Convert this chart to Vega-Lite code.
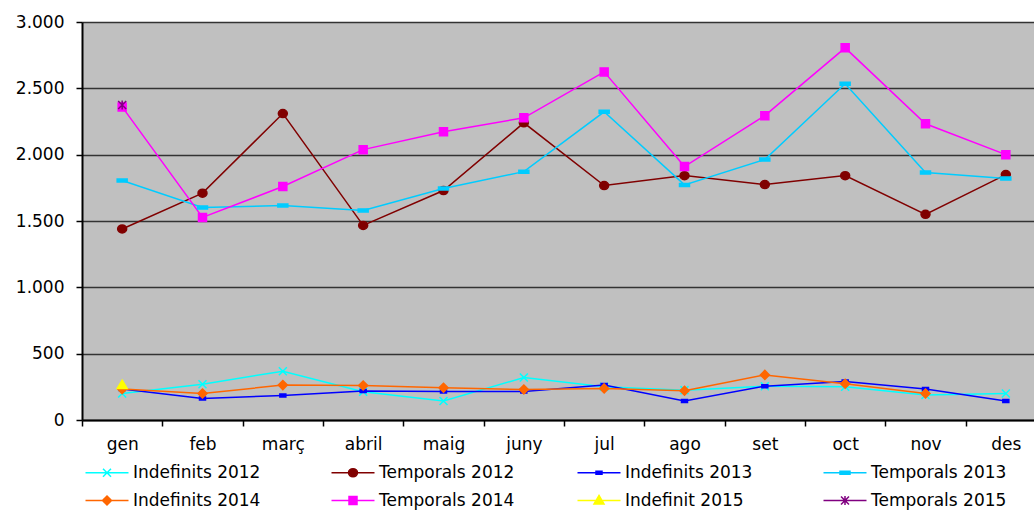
{
  "$schema": "https://vega.github.io/schema/vega-lite/v6.json",
  "width": 964,
  "height": 398,
  "autosize": {"type": "none"},
  "padding": {"left": 82, "top": 22, "right": 0, "bottom": 90},
  "config": {
    "font": "DejaVu Sans",
    "view": {"fill": "#C0C0C0", "stroke": null},
    "legend": {"symbolOpacity": 1},
    "axis": {"labelColor": "black", "labelFontSize": 17, "tickColor": "black", "domainColor": "black", "domainWidth": 2, "tickWidth": 1.5, "tickSize": 6, "title": null}
  },
  "data": {"values": [
    {"m": "gen", "s": "Indefinits 2012", "v": 200}, {"m": "feb", "s": "Indefinits 2012", "v": 270}, {"m": "març", "s": "Indefinits 2012", "v": 368}, {"m": "abril", "s": "Indefinits 2012", "v": 213}, {"m": "maig", "s": "Indefinits 2012", "v": 143}, {"m": "juny", "s": "Indefinits 2012", "v": 320}, {"m": "jul", "s": "Indefinits 2012", "v": 250}, {"m": "ago", "s": "Indefinits 2012", "v": 225}, {"m": "set", "s": "Indefinits 2012", "v": 255}, {"m": "oct", "s": "Indefinits 2012", "v": 250}, {"m": "nov", "s": "Indefinits 2012", "v": 188}, {"m": "des", "s": "Indefinits 2012", "v": 200},
    {"m": "gen", "s": "Temporals 2012", "v": 1440}, {"m": "feb", "s": "Temporals 2012", "v": 1710}, {"m": "març", "s": "Temporals 2012", "v": 2310}, {"m": "abril", "s": "Temporals 2012", "v": 1467}, {"m": "maig", "s": "Temporals 2012", "v": 1730}, {"m": "juny", "s": "Temporals 2012", "v": 2240}, {"m": "jul", "s": "Temporals 2012", "v": 1767}, {"m": "ago", "s": "Temporals 2012", "v": 1842}, {"m": "set", "s": "Temporals 2012", "v": 1775}, {"m": "oct", "s": "Temporals 2012", "v": 1842}, {"m": "nov", "s": "Temporals 2012", "v": 1550}, {"m": "des", "s": "Temporals 2012", "v": 1850},
    {"m": "gen", "s": "Indefinits 2013", "v": 233}, {"m": "feb", "s": "Indefinits 2013", "v": 163}, {"m": "març", "s": "Indefinits 2013", "v": 185}, {"m": "abril", "s": "Indefinits 2013", "v": 218}, {"m": "maig", "s": "Indefinits 2013", "v": 215}, {"m": "juny", "s": "Indefinits 2013", "v": 215}, {"m": "jul", "s": "Indefinits 2013", "v": 263}, {"m": "ago", "s": "Indefinits 2013", "v": 143}, {"m": "set", "s": "Indefinits 2013", "v": 255}, {"m": "oct", "s": "Indefinits 2013", "v": 290}, {"m": "nov", "s": "Indefinits 2013", "v": 233}, {"m": "des", "s": "Indefinits 2013", "v": 143},
    {"m": "gen", "s": "Temporals 2013", "v": 1805}, {"m": "feb", "s": "Temporals 2013", "v": 1602}, {"m": "març", "s": "Temporals 2013", "v": 1617}, {"m": "abril", "s": "Temporals 2013", "v": 1580}, {"m": "maig", "s": "Temporals 2013", "v": 1745}, {"m": "juny", "s": "Temporals 2013", "v": 1872}, {"m": "jul", "s": "Temporals 2013", "v": 2323}, {"m": "ago", "s": "Temporals 2013", "v": 1772}, {"m": "set", "s": "Temporals 2013", "v": 1963}, {"m": "oct", "s": "Temporals 2013", "v": 2534}, {"m": "nov", "s": "Temporals 2013", "v": 1865}, {"m": "des", "s": "Temporals 2013", "v": 1820},
    {"m": "gen", "s": "Indefinits 2014", "v": 233}, {"m": "feb", "s": "Indefinits 2014", "v": 200}, {"m": "març", "s": "Indefinits 2014", "v": 263}, {"m": "abril", "s": "Indefinits 2014", "v": 260}, {"m": "maig", "s": "Indefinits 2014", "v": 243}, {"m": "juny", "s": "Indefinits 2014", "v": 230}, {"m": "jul", "s": "Indefinits 2014", "v": 238}, {"m": "ago", "s": "Indefinits 2014", "v": 220}, {"m": "set", "s": "Indefinits 2014", "v": 340}, {"m": "oct", "s": "Indefinits 2014", "v": 273}, {"m": "nov", "s": "Indefinits 2014", "v": 200},
    {"m": "gen", "s": "Temporals 2014", "v": 2360}, {"m": "feb", "s": "Temporals 2014", "v": 1527}, {"m": "març", "s": "Temporals 2014", "v": 1760}, {"m": "abril", "s": "Temporals 2014", "v": 2038}, {"m": "maig", "s": "Temporals 2014", "v": 2173}, {"m": "juny", "s": "Temporals 2014", "v": 2278}, {"m": "jul", "s": "Temporals 2014", "v": 2624}, {"m": "ago", "s": "Temporals 2014", "v": 1910}, {"m": "set", "s": "Temporals 2014", "v": 2294}, {"m": "oct", "s": "Temporals 2014", "v": 2805}, {"m": "nov", "s": "Temporals 2014", "v": 2233}, {"m": "des", "s": "Temporals 2014", "v": 2000},
    {"m": "gen", "s": "Indefinit 2015", "v": 263},
    {"m": "gen", "s": "Temporals 2015", "v": 2375}
  ]},
  "encoding": {
    "x": {"field": "m", "type": "ordinal", "sort": ["gen", "feb", "març", "abril", "maig", "juny", "jul", "ago", "set", "oct", "nov", "des"],
      "scale": {"type": "band", "paddingInner": 0, "paddingOuter": 0},
      "axis": {"tickBand": "extent", "labelAngle": 0, "labelPadding": 10, "grid": false}},
    "y": {"field": "v", "type": "quantitative",
      "scale": {"domain": [0, 3000], "nice": false},
      "axis": {"values": [0, 500, 1000, 1500, 2000, 2500, 3000], "grid": true, "gridColor": "#333333", "gridWidth": 1.5, "labelPadding": 12, "labelExpr": "replace(format(datum.value, ','), ',', '.')"}},
    "color": {"field": "s", "type": "nominal",
      "scale": {"domain": ["Indefinits 2012", "Temporals 2012", "Indefinits 2013", "Temporals 2013", "Indefinits 2014", "Temporals 2014", "Indefinit 2015", "Temporals 2015"],
        "range": ["#00FFFF", "#800000", "#0000FF", "#00CCFF", "#FF6600", "#FF00FF", "#FFFF00", "#800080"]},
      "legend": {"orient": "none", "legendX": 16.5, "legendY": 442, "columns": 4, "direction": "horizontal", "title": null,
        "symbolSize": 100, "symbolStrokeWidth": 1.5, "labelFontSize": 17, "labelColor": "black", "labelOffset": 17.5,
        "columnPadding": 60, "rowPadding": 10, "gridAlign": "all",
        "encode": {"symbols": {"update": {
          "shape": {"signal": "datum.value == 'Indefinits 2012' ? 'M-4.3,0H4.3M-0.8,-0.8L0.8,0.8M-0.8,0.8L0.8,-0.8' : datum.value == 'Temporals 2012' ? 'M-4.3,0H4.3M0.9,0A0.9,0.8 0 1,1 -0.9,0A0.9,0.8 0 1,1 0.9,0Z' : datum.value == 'Indefinits 2013' ? 'M-4.3,0H4.3M-0.6,-0.3H0.6V0.3H-0.6Z' : datum.value == 'Temporals 2013' ? 'M-4.3,0H4.3M-1,-0.3H1V0.3H-1Z' : datum.value == 'Indefinits 2014' ? 'M-4.3,0H4.3M0,-0.9L0.9,0L0,0.9L-0.9,0Z' : datum.value == 'Temporals 2014' ? 'M-4.3,0H4.3M-0.8,-0.8H0.8V0.8H-0.8Z' : datum.value == 'Indefinit 2015' ? 'M-4.3,0H4.3M0,-1L1,0.7H-1Z' : 'M-4.3,0H4.3M-0.8,-0.8L0.8,0.8M-0.8,0.8L0.8,-0.8M0,-0.9V0.9'"},
          "fill": {"signal": "scale('color', datum.value)"},
          "stroke": {"signal": "scale('color', datum.value)"},
          "opacity": {"value": 1}
        }}}
      }}
  },
  "layer": [
    {"mark": {"type": "line", "strokeWidth": 1.5}},
    {"transform": [{"filter": "datum.s == 'Indefinits 2012'"}],
     "mark": {"type": "point", "shape": "M-0.8,-0.8L0.8,0.8M-0.8,0.8L0.8,-0.8", "filled": true, "size": 100, "stroke": "#00FFFF", "strokeWidth": 1.5, "opacity": 1}},
    {"transform": [{"filter": "datum.s == 'Temporals 2012'"}],
     "mark": {"type": "point", "shape": "M0.9,0A0.9,0.8 0 1,1 -0.9,0A0.9,0.8 0 1,1 0.9,0Z", "filled": true, "size": 100, "stroke": "#800000", "strokeWidth": 1.5, "opacity": 1}},
    {"transform": [{"filter": "datum.s == 'Indefinits 2013'"}],
     "mark": {"type": "point", "shape": "M-0.6,-0.3H0.6V0.3H-0.6Z", "filled": true, "size": 100, "stroke": "#0000FF", "strokeWidth": 1.5, "opacity": 1}},
    {"transform": [{"filter": "datum.s == 'Temporals 2013'"}],
     "mark": {"type": "point", "shape": "M-1,-0.3H1V0.3H-1Z", "filled": true, "size": 100, "stroke": "#00CCFF", "strokeWidth": 1.5, "opacity": 1}},
    {"transform": [{"filter": "datum.s == 'Indefinits 2014'"}],
     "mark": {"type": "point", "shape": "M0,-0.9L0.9,0L0,0.9L-0.9,0Z", "filled": true, "size": 100, "stroke": "#FF6600", "strokeWidth": 1.5, "opacity": 1}},
    {"transform": [{"filter": "datum.s == 'Temporals 2014'"}],
     "mark": {"type": "point", "shape": "M-0.8,-0.8H0.8V0.8H-0.8Z", "filled": true, "size": 100, "stroke": "#FF00FF", "strokeWidth": 1.5, "opacity": 1}},
    {"transform": [{"filter": "datum.s == 'Indefinit 2015'"}],
     "mark": {"type": "point", "shape": "M0,-1L1,0.7H-1Z", "filled": true, "size": 100, "stroke": "#FFFF00", "strokeWidth": 1.5, "opacity": 1}},
    {"transform": [{"filter": "datum.s == 'Temporals 2015'"}],
     "mark": {"type": "point", "shape": "M-0.8,-0.8L0.8,0.8M-0.8,0.8L0.8,-0.8M0,-0.9V0.9", "filled": true, "size": 100, "stroke": "#800080", "strokeWidth": 1.5, "opacity": 1}}
  ]
}
